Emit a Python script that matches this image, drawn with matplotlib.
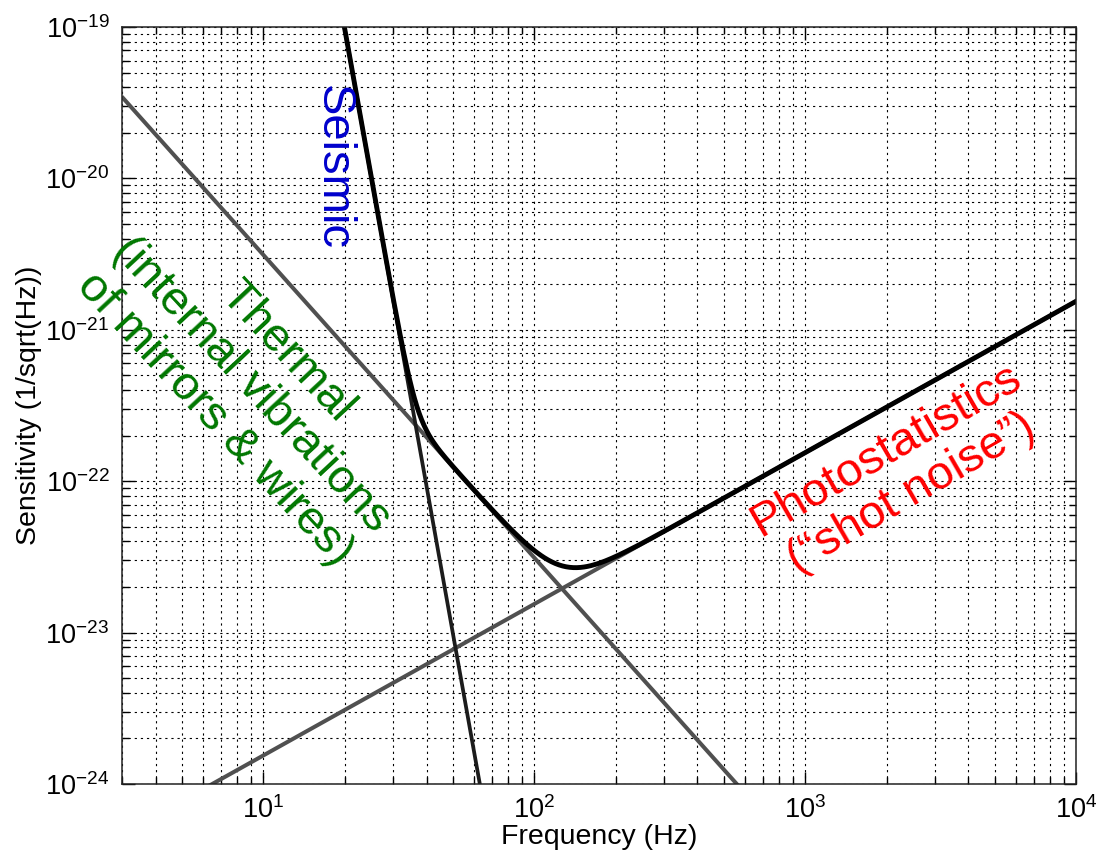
import numpy as np
import matplotlib
matplotlib.use('Agg')
import matplotlib.pyplot as plt
from matplotlib.ticker import NullFormatter

plt.rcParams['font.family'] = ['Liberation Sans', 'DejaVu Sans']
plt.rcParams['mathtext.fontset'] = 'custom'
plt.rcParams['mathtext.rm'] = 'Liberation Sans'
plt.rcParams['mathtext.it'] = 'Liberation Sans:italic'
plt.rcParams['mathtext.bf'] = 'Liberation Sans:bold'

# Noise model (power laws, anchor points)
freq_range = [3, 1e4]
sens_range = [1e-24, 1e-19]
x_major = [1e1, 1e2, 1e3, 1e4]
y_major = [1e-24, 1e-23, 1e-22, 1e-21, 1e-20, 1e-19]
seismic_anchor = [19.9, 1e-19]      # (Hz, 1/sqrt(Hz)) where seismic leaves the top
seismic_exp = -10
thermal_anchor = [3, 3.47e-20]
thermal_exp = -2
shot_anchor = [6.47, 1e-24]
shot_exp = 1

labels = ['Seismic', 'Thermal\n(internal vibrations\nof mirrors & wires)',
          'Photostatistics\n(\u201cshot noise\u201d)']
label_pos = [[18.1, 1.18e-20], [9.0, 4.3e-22], [2213, 1.15e-22]]
label_rot = [-90, -47, 30]
label_col = ['#0000cc', '#007700', '#ff0000']

f = np.logspace(np.log10(freq_range[0]), np.log10(freq_range[1]), 800)
seismic = seismic_anchor[1] * (f / seismic_anchor[0]) ** seismic_exp
thermal = thermal_anchor[1] * (f / thermal_anchor[0]) ** thermal_exp
shot = shot_anchor[1] * (f / shot_anchor[0]) ** shot_exp
total = np.sqrt(seismic**2 + thermal**2 + shot**2)

fig = plt.figure(figsize=(10.97, 8.61), dpi=100)
ax = fig.add_axes([0.111, 0.0894, 0.870, 0.8792])

ax.loglog(f, thermal, color='#505050', lw=2.9, solid_capstyle='butt')
ax.loglog(f, shot, color='#505050', lw=2.9, solid_capstyle='butt')
ax.loglog(f, seismic, color='#1c1c1c', lw=2.7)
ax.loglog(f, total, color='black', lw=3.5)

# minor ticks: 2..9 times each decade, only inside the view
x_minor = [m * 10.0**e for e in range(0, 4) for m in range(2, 10)
           if freq_range[0] <= m * 10.0**e <= freq_range[1]]
y_minor = [m * 10.0**e for e in range(-24, -19) for m in range(2, 10)]

ax.set_xticks(x_major)
ax.set_xticks(x_minor, minor=True)
ax.set_yticks(y_major)
ax.set_yticks(y_minor, minor=True)
ax.xaxis.set_minor_formatter(NullFormatter())
ax.yaxis.set_minor_formatter(NullFormatter())
ax.set_xlim(freq_range)
ax.set_ylim(sens_range)

ax.tick_params(which='both', direction='in', top=True, right=True, width=1)
ax.tick_params(which='major', length=9, labelsize=19.5, pad=9)
ax.tick_params(which='minor', length=5)
ax.grid(True, which='both', color='black', lw=0.8, linestyle=(0, (2, 3.5)))
for sp in ax.spines.values():
    sp.set_linewidth(1.1)
    sp.set_color('#222222')

ax.set_xlabel('Frequency (Hz)', fontsize=20.5, labelpad=0)
ax.set_ylabel('Sensitivity (1/sqrt(Hz))', fontsize=20.5, labelpad=2)

for txt, pos, rot, col in zip(labels, label_pos, label_rot, label_col):
    ax.text(pos[0], pos[1], txt, color=col, fontsize=34, rotation=rot,
            rotation_mode='anchor', ha='center', va='center',
            multialignment='center', linespacing=1.15)

plt.savefig('out.png', dpi=100)
